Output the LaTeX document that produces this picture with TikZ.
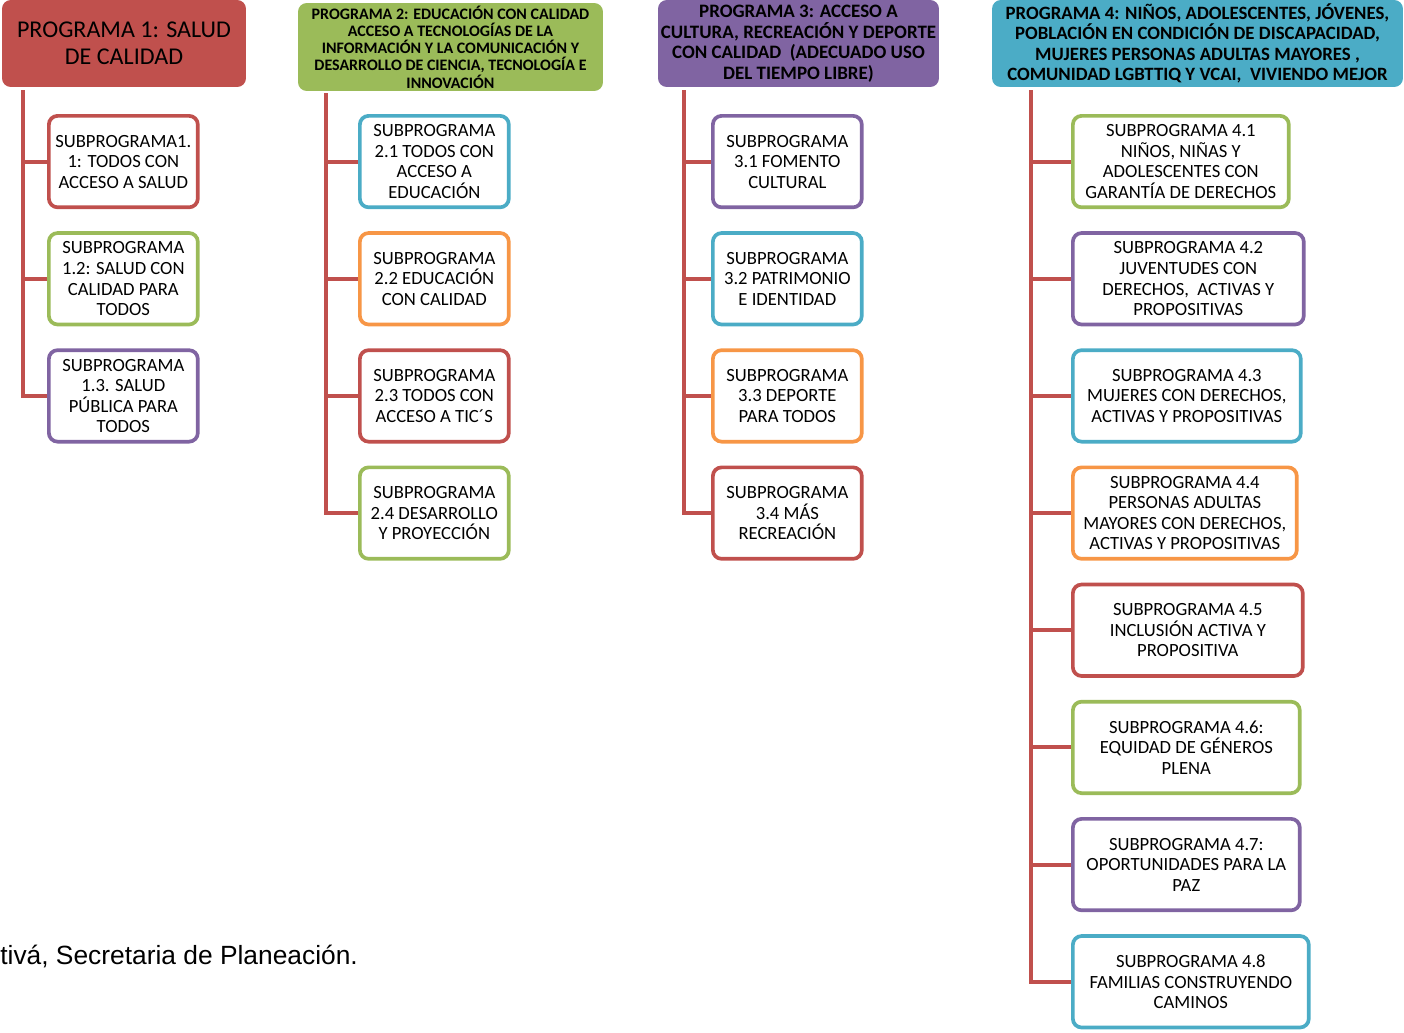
\documentclass[tikz,border=0pt]{standalone}
\usepackage{fontspec}
\setmainfont{Carlito}
\newfontfamily\fuentefont{Liberation Sans}
\usetikzlibrary{positioning}

\definecolor{rojo}{HTML}{C0504D}
\definecolor{verde}{HTML}{9BBB59}
\definecolor{morado}{HTML}{8064A2}
\definecolor{azul}{HTML}{4BACC6}
\definecolor{naranja}{HTML}{F79646}

\tikzset{
  prog/.style = {fill = #1, shape = rectangle, rounded corners = 5pt, inner sep = 0pt, align = center},
  sub/.style = {draw = #1, fill = white, shape = rectangle, rounded corners = 5pt, line width = 2.1pt,
                minimum width = 2.98cm, minimum height = 1.83cm, inner sep = 0pt, align = center,
                font = \fontsize{10.6}{11.7}\selectfont},
  tronco/.style = {draw = rojo, line width = 2.3pt},
}

\begin{document}
\begin{tikzpicture}[x = 0.02cm, y = -0.02cm]
\useasboundingbox (0,0) rectangle (1404,1032);

% programas
\node[prog = rojo, minimum width = 4.88cm, minimum height = 1.74cm, font = \fontsize{13.7}{15.3}\selectfont] (p1) at (124,43.5) {PROGRAMA 1: SALUD\\DE CALIDAD};
\node[prog = verde, minimum width = 6.10cm, minimum height = 1.76cm, font = \bfseries\fontsize{9.1}{9.8}\selectfont] (p2) at (450.5,47) {PROGRAMA 2: EDUCACIÓN CON CALIDAD\\ACCESO A TECNOLOGÍAS DE LA\\INFORMACIÓN Y LA COMUNICACIÓN Y\\DESARROLLO DE CIENCIA, TECNOLOGÍA E\\INNOVACIÓN};
\node[prog = morado, minimum width = 5.62cm, minimum height = 1.74cm, font = \bfseries\fontsize{10.8}{11.7}\selectfont] (p3) at (798.5,43.5) {PROGRAMA 3: ACCESO A\\CULTURA, RECREACIÓN Y DEPORTE\\CON CALIDAD\ \ (ADECUADO USO\\DEL TIEMPO LIBRE)};
\node[prog = azul, minimum width = 8.22cm, minimum height = 1.74cm, font = \bfseries\fontsize{10.7}{11.7}\selectfont] (p4) at (1197.5,43.5) {PROGRAMA 4: NIÑOS, ADOLESCENTES, JÓVENES,\\POBLACIÓN EN CONDICIÓN DE DISCAPACIDAD,\\MUJERES PERSONAS ADULTAS MAYORES ,\\COMUNIDAD LGBTTIQ Y VCAI,\ \ VIVIENDO MEJOR};

% programa 1
\node[sub = rojo, anchor = north west] (s11) at (47,114) {SUBPROGRAMA1.\\1: TODOS CON\\ACCESO A SALUD};
\node[sub = verde, below = 0.44cm of s11] (s12) {SUBPROGRAMA\\1.2: SALUD CON\\CALIDAD PARA\\TODOS};
\node[sub = morado, below = 0.44cm of s12] (s13) {SUBPROGRAMA\\1.3. SALUD\\PÚBLICA PARA\\TODOS};

% programa 2
\node[sub = azul, anchor = north west] (s21) at (358,114) {SUBPROGRAMA\\2.1 TODOS CON\\ACCESO A\\EDUCACIÓN};
\node[sub = naranja, below = 0.44cm of s21] (s22) {SUBPROGRAMA\\2.2 EDUCACIÓN\\CON CALIDAD};
\node[sub = rojo, below = 0.44cm of s22] (s23) {SUBPROGRAMA\\2.3 TODOS CON\\ACCESO A TIC´S};
\node[sub = verde, below = 0.44cm of s23] (s24) {SUBPROGRAMA\\2.4 DESARROLLO\\Y PROYECCIÓN};

% programa 3
\node[sub = morado, anchor = north west] (s31) at (711,114) {SUBPROGRAMA\\3.1 FOMENTO\\CULTURAL};
\node[sub = azul, below = 0.44cm of s31] (s32) {SUBPROGRAMA\\3.2 PATRIMONIO\\E IDENTIDAD};
\node[sub = naranja, below = 0.44cm of s32] (s33) {SUBPROGRAMA\\3.3 DEPORTE\\PARA TODOS};
\node[sub = rojo, below = 0.44cm of s33] (s34) {SUBPROGRAMA\\3.4 MÁS\\RECREACIÓN};

% programa 4
\node[sub = verde, minimum width = 4.32cm, anchor = north west] (s41) at (1071,114) {SUBPROGRAMA 4.1\\NIÑOS, NIÑAS Y\\ADOLESCENTES CON\\GARANTÍA DE DERECHOS};
\node[sub = morado, minimum width = 4.62cm, below right = 0.44cm and 0cm of s41.south west] (s42) {SUBPROGRAMA 4.2\\JUVENTUDES CON\\DERECHOS,\ \ ACTIVAS Y\\PROPOSITIVAS};
\node[sub = azul, minimum width = 4.56cm, below right = 0.44cm and 0cm of s42.south west] (s43) {SUBPROGRAMA 4.3\\MUJERES CON DERECHOS,\\ACTIVAS Y PROPOSITIVAS};
\node[sub = naranja, minimum width = 4.48cm, below right = 0.44cm and 0cm of s43.south west] (s44) {SUBPROGRAMA 4.4\\PERSONAS ADULTAS\\MAYORES CON DERECHOS,\\ACTIVAS Y PROPOSITIVAS};
\node[sub = rojo, minimum width = 4.60cm, below right = 0.44cm and 0cm of s44.south west] (s45) {SUBPROGRAMA 4.5\\INCLUSIÓN ACTIVA Y\\PROPOSITIVA};
\node[sub = verde, minimum width = 4.54cm, below right = 0.44cm and 0cm of s45.south west] (s46) {SUBPROGRAMA 4.6:\\EQUIDAD DE GÉNEROS\\PLENA};
\node[sub = morado, minimum width = 4.54cm, below right = 0.44cm and 0cm of s46.south west] (s47) {SUBPROGRAMA 4.7:\\OPORTUNIDADES PARA LA\\PAZ};
\node[sub = azul, minimum width = 4.72cm, below right = 0.44cm and 0cm of s47.south west] (s48) {SUBPROGRAMA 4.8\\FAMILIAS CONSTRUYENDO\\CAMINOS};

% troncos
\coordinate (t1) at (23,90);
\coordinate (t2) at (326,93);
\coordinate (t3) at (684,90);
\coordinate (t4) at (1031,90);
\foreach \s in {s11,s12,s13} \draw[tronco] (t1) |- (\s.west);
\foreach \s in {s21,s22,s23,s24} \draw[tronco] (t2) |- (\s.west);
\foreach \s in {s31,s32,s33,s34} \draw[tronco] (t3) |- (\s.west);
\foreach \s in {s41,s42,s43,s44,s45,s46,s47,s48} \draw[tronco] (t4) |- (\s.west);

% fuente
\node[anchor = base west, inner sep = 0pt, font = \fuentefont\fontsize{15}{18}\selectfont] (fuente) at (0,964) {tivá, Secretaria de Planeación.};
\end{tikzpicture}
\end{document}
